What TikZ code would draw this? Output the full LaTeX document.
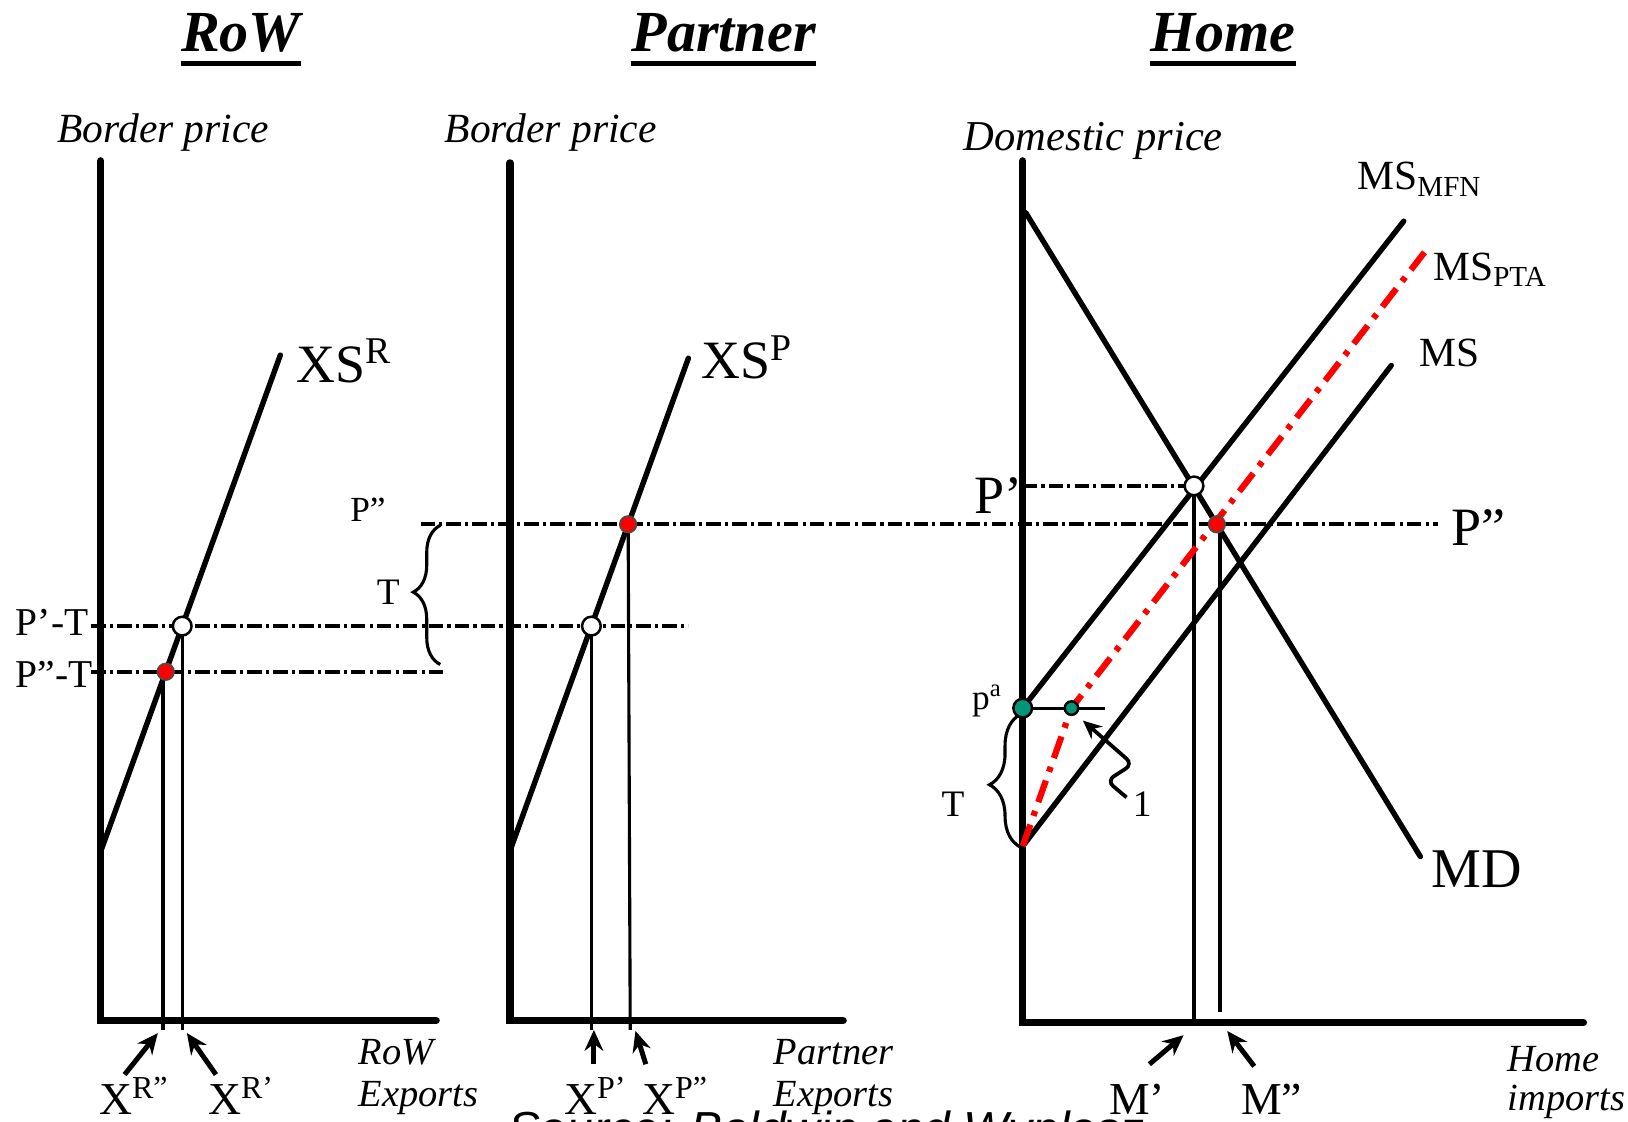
\documentclass[tikz,border=0pt]{standalone}
\usepackage{fontspec}
\setmainfont{Liberation Serif}
\setsansfont{Liberation Sans}
\usetikzlibrary{arrows.meta,decorations.pathreplacing,calc}
\newcommand\fsz[1]{\fontsize{#1}{#1}\selectfont}
\definecolor{dotgreen}{RGB}{0,150,120}
\begin{document}
\begin{tikzpicture}[x=0.5pt,y=-0.5pt,
  axis/.style={line width=3.6pt,line cap=round,line join=miter},
  curve/.style={line width=2.6pt,line cap=round},
  thinv/.style={line width=1.5pt},
  dd/.style={line width=2pt,dash pattern=on 7pt off 2pt on 1.5pt off 2pt},
  reddd/.style={line width=3pt,red,dash pattern=on 11pt off 4.5pt on 2.5pt off 4.5pt},
  lbl/.style={inner sep=0pt,anchor=base west},
  ttl/.style={inner sep=0pt,anchor=base,font=\fsz{28pt}\bfseries\itshape},
  ul/.style={line width=2.6pt},
  brc/.style={line width=1.5pt,decorate},
  uparrow/.style={line width=2.4pt,-{Stealth[length=10pt,width=9pt]}},
  reddot/.style={circle,fill=red,draw=black!70,line width=0.8pt,inner sep=0pt,minimum size=8pt},
  opendot/.style={circle,fill=white,draw=black,line width=1.2pt,inner sep=0pt,minimum size=9pt},
  grdot/.style={circle,fill=dotgreen,draw=black,line width=1.2pt,inner sep=0pt,minimum size=#1},
  grdot/.default=8pt
]
\useasboundingbox (0,0) rectangle (1568,1080);

% ---------- titles ----------
\node[ttl] (trow) at (232,50) {RoW};
\node[ttl] (tpar) at (697,50) {Partner};
\node[ttl] (thome) at (1178,50) {Home};
\foreach \t in {trow,tpar,thome}{
  \draw[ul] ($(\t.base west)+(0,11)$) -- ($(\t.base east)+(0,11)$);
}

% ---------- axis labels ----------
\node[lbl,font=\fsz{20pt}\itshape] (bp1) at (55,137) {Border price};
\node[lbl,font=\fsz{20pt}\itshape] (bp2) at (428,137) {Border price};
\node[lbl,font=\fsz{20.5pt}\itshape] (dp) at (928,145) {Domestic price};

\node[lbl,font=\fsz{18.5pt}\itshape] (rx1) at (345,1025) {RoW};
\node[lbl,font=\fsz{18.5pt}\itshape] (rx2) at (345,1066) {Exports};
\node[lbl,font=\fsz{18.5pt}\itshape] (px1) at (745,1025) {Partner};
\node[lbl,font=\fsz{18.5pt}\itshape] (px2) at (745,1066) {Exports};
\node[lbl,font=\fsz{18.5pt}\itshape] (hx1) at (1452,1032) {Home};
\node[lbl,font=\fsz{18.5pt}\itshape] (hx2) at (1452,1070) {imports};

% ---------- key coordinates ----------
\coordinate (ro) at (97,983);   \coordinate (rtop) at (97,155);  \coordinate (rx) at (420,983);
\coordinate (po) at (491,983);  \coordinate (ptop) at (491,157); \coordinate (px) at (812,983);
\coordinate (ho) at (985,985);  \coordinate (htop) at (985,155); \coordinate (hx) at (1525,985);

\coordinate (xsr0) at (97,820);  \coordinate (xsr1) at (270,342);
\coordinate (xsp0) at (491,820); \coordinate (xsp1) at (663,345);

\coordinate (rA) at (175.5,603); % open circle RoW
\coordinate (rB) at (159.6,647); % red dot RoW
\coordinate (pA) at (569.6,603); % open circle Partner
\coordinate (pB) at (605,505);   % red dot Partner

\coordinate (mdtop) at (988,205);   \coordinate (mdbot) at (1368,825);
\coordinate (mfn0) at (985,682);    \coordinate (mfn1) at (1352,213);
\coordinate (ms0) at (985,815);     \coordinate (ms1) at (1340,352);
\coordinate (pta1) at (1032,682);   \coordinate (pta2) at (1372,243);
\coordinate (hA) at (1150,468);     % open circle Home
\coordinate (hB) at (1172,505);     % red dot Home

% ---------- dash-dot price lines ----------
\draw[dd] (88,603) -- (663,603);
\draw[dd] (88,647) -- (430,647);
\draw[dd] (405,505) -- (1385,505);
\draw[dd] (985,468) -- (hA);

% ---------- axes ----------
\draw[axis] (rtop) -- (ro) -- (rx);
\draw[axis] (ptop) -- (po) -- (px);
\draw[axis] (htop) -- (ho) -- (hx);

% ---------- supply curves ----------
\draw[curve] (xsr0) -- (xsr1);
\draw[curve] (xsp0) -- (xsp1);
\node[lbl,font=\fsz{26pt}] (lxsr) at (285,368) {XS\textsuperscript{R}};
\node[lbl,font=\fsz{26pt}] (lxsp) at (675,365) {XS\textsuperscript{P}};

% verticals
\draw[thinv] (rA) -- (175.5,992);
\draw[thinv] (157,650) -- (157,992);
\draw[thinv] (pA) -- (569.6,992);
\draw[thinv] (pB) -- (607,992);
\draw[thinv] (hA) -- (1150,985);
\draw[thinv] (1175,505) -- (1175,975);

% ---------- home curves ----------
\draw[curve] (mdtop) -- (mdbot);
\draw[curve] (mfn0) -- (mfn1);
\draw[curve] (ms0) -- (ms1);
\draw[reddd] (ms0) -- (pta1) -- (pta2);
\draw[line width=1.5pt] (mfn0) -- (1064,682);

\node[lbl,font=\fsz{20pt}] (lmfn) at (1307,183) {MS\textsubscript{MFN}};
\node[lbl,font=\fsz{20pt}] (lpta) at (1380,270) {MS\textsubscript{PTA}};
\node[lbl,font=\fsz{20pt}] (lms) at (1367,353) {MS};
\node[lbl,font=\fsz{27pt}] (lmd) at (1378,855) {MD};

% ---------- price labels ----------
\node[lbl,font=\fsz{19pt}] (lp1t) at (15,612) {P’-T};
\node[lbl,font=\fsz{19pt}] (lp2t) at (15,662) {P”-T};
\node[lbl,font=\fsz{17pt}] (lp2a) at (337,502) {P”};
\node[lbl,font=\fsz{26pt}] (lp1h) at (938,495) {P’};
\node[lbl,font=\fsz{26pt}] (lp2h) at (1398,525) {P”};
\node[lbl,font=\fsz{17pt}] (lpa) at (936,683) {p\textsuperscript{a}};

% ---------- braces ----------
\draw[brc,decoration={brace,amplitude=13pt,aspect=0.52}] (424,640) -- (424,506);
\node[font=\fsz{18pt},inner sep=0pt] (lt1) at (374,570) {T};
\draw[brc,decoration={brace,amplitude=15pt,aspect=0.47}] (983,816) -- (983,688);
\node[font=\fsz{18pt},inner sep=0pt] (lt2) at (918,775) {T};

% ---------- dots ----------
\node[opendot] (dA) at (rA) {};
\node[reddot] (dB) at (rB) {};
\node[opendot] (dC) at (pA) {};
\node[reddot] (dD) at (pB) {};
\node[opendot] (dE) at (hA) {};
\node[reddot] (dF) at (hB) {};
\node[grdot=9pt] (g1) at (mfn0) {};
\node[grdot=6.5pt] (g2) at (pta1) {};

% ---------- squiggle arrow "1" ----------
\node[font=\fsz{18pt},inner sep=0pt] (one) at (1100,775) {1};
\coordinate (sq0) at (1085,768);
\draw[line width=1.8pt,rounded corners=4pt,-{Stealth[length=9pt,width=8pt]}]
  (sq0) -- (1066,752) -- (1091,736) -- (1043,694);

% ---------- bottom arrows and labels ----------
\coordinate (a1t) at (120,1035);  \coordinate (a1h) at (152,995);
\coordinate (a2t) at (208,1035);  \coordinate (a2h) at (180,995);
\coordinate (a3t) at (572,1025);  \coordinate (a3h) at (572,992);
\coordinate (a4t) at (622,1025);  \coordinate (a4h) at (612,993);
\coordinate (a5t) at (1107,1025); \coordinate (a5h) at (1140,997);
\coordinate (a6t) at (1208,1027); \coordinate (a6h) at (1182,993);
\foreach \i in {1,...,6}{ \draw[uparrow] (a\i t) -- (a\i h); }

\node[lbl,font=\fsz{22pt}] (lxr2) at (95,1073) {X\textsuperscript{R”}};
\node[lbl,font=\fsz{22pt}] (lxr1) at (200,1073) {X\textsuperscript{R’}};
\node[lbl,font=\fsz{22pt}] (lxp1) at (543,1073) {X\textsuperscript{P’}};
\node[lbl,font=\fsz{22pt}] (lxp2) at (618,1073) {X\textsuperscript{P”}};
\node[lbl,font=\fsz{22pt}] (lm1) at (1068,1073) {M’};
\node[lbl,font=\fsz{22pt}] (lm2) at (1195,1073) {M”};

% ---------- source line (cut off by the page edge, as in the reference) ----------
\node[lbl,font=\fsz{23pt}\sffamily\itshape] (src) at (489,1103) {Source: Baldwin and Wyplosz};
\end{tikzpicture}
\end{document}
